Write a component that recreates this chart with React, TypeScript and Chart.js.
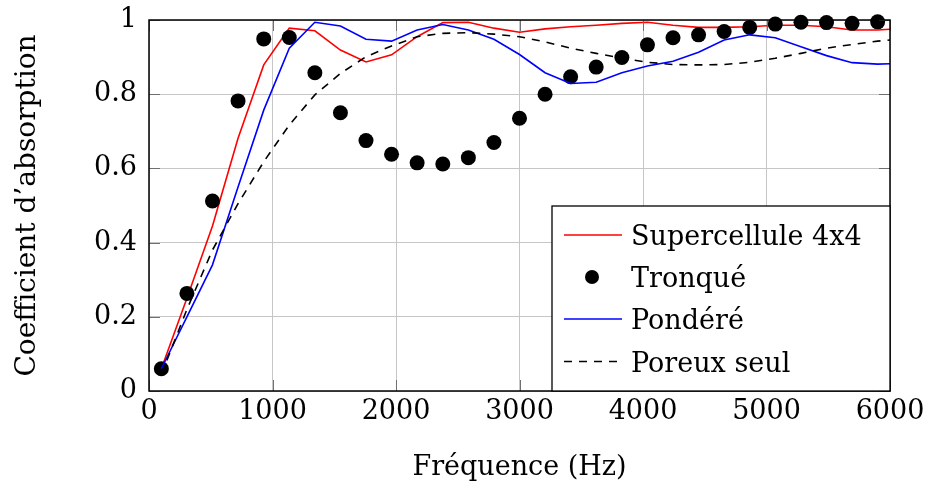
import React, { useEffect, useRef } from "react";
import { Chart, registerables } from "chart.js";

Chart.register(...registerables);

const FONT = "'DejaVu Serif', serif";
const FS = 27;

// Frequencies (Hz) of the computed points
const freqs = [100, 307, 514, 721, 929, 1136, 1343, 1550, 1757, 1964, 2171, 2379, 2586, 2793, 3000, 3207, 3414, 3621, 3829, 4036, 4243, 4450, 4657, 4864, 5071, 5279, 5486, 5693, 5900];
// Curves continue up to the right edge of the axis
const lineFreqs = [100, 307, 514, 721, 929, 1136, 1343, 1550, 1757, 1964, 2171, 2379, 2586, 2793, 3000, 3207, 3414, 3621, 3829, 4036, 4243, 4450, 4657, 4864, 5071, 5279, 5486, 5693, 5900, 6000];

const supercellule = [0.06, 0.25, 0.445, 0.681, 0.879, 0.978, 0.971, 0.919, 0.887, 0.906, 0.955, 0.993, 0.994, 0.978, 0.967, 0.976, 0.982, 0.986, 0.991, 0.994, 0.986, 0.98, 0.98, 0.982, 0.986, 0.986, 0.982, 0.973, 0.973, 0.975];
const tronque = [0.06, 0.263, 0.512, 0.782, 0.949, 0.953, 0.858, 0.75, 0.675, 0.638, 0.615, 0.612, 0.629, 0.67, 0.735, 0.8, 0.847, 0.873, 0.899, 0.933, 0.952, 0.96, 0.969, 0.98, 0.989, 0.994, 0.993, 0.991, 0.995];
const pondere = [0.06, 0.2, 0.34, 0.55, 0.757, 0.924, 0.994, 0.984, 0.948, 0.943, 0.973, 0.988, 0.973, 0.948, 0.907, 0.858, 0.829, 0.832, 0.858, 0.876, 0.889, 0.913, 0.946, 0.96, 0.952, 0.928, 0.904, 0.885, 0.881, 0.882];
const poreuxSeul = [0.045, 0.22, 0.38, 0.505, 0.618, 0.717, 0.798, 0.856, 0.901, 0.93, 0.955, 0.964, 0.966, 0.962, 0.955, 0.941, 0.924, 0.91, 0.897, 0.886, 0.88, 0.879, 0.88, 0.886, 0.897, 0.91, 0.924, 0.934, 0.943, 0.946];

const seriesLabels = ["Supercellule 4x4", "Tronqué", "Pondéré", "Poreux seul"];
const xTicks = [0, 1000, 2000, 3000, 4000, 5000, 6000];
const yTicks = [0, 0.2, 0.4, 0.6, 0.8, 1];
const xTitle = "Fréquence (Hz)";
const yTitle = "Coefficient d’absorption";

const toPoints = (xs: number[], ys: number[]) => ys.map((y, i) => ({ x: xs[i], y }));

const framePlugin = {
  id: "frameTicks",
  afterDatasetsDraw(chart: any) {
    const { ctx, chartArea } = chart;
    const { left, right, top, bottom } = chartArea;
    const xs = chart.scales.x;
    const ys = chart.scales.y;
    ctx.save();
    ctx.strokeStyle = "#707070";
    ctx.lineWidth = 1;
    const tl = 11;
    ctx.beginPath();
    xTicks.forEach((v) => {
      const px = Math.round(xs.getPixelForValue(v)) + 0.5;
      ctx.moveTo(px, bottom); ctx.lineTo(px, bottom - tl);
      ctx.moveTo(px, top); ctx.lineTo(px, top + tl);
    });
    yTicks.forEach((v) => {
      const py = Math.round(ys.getPixelForValue(v)) + 0.5;
      ctx.moveTo(left, py); ctx.lineTo(left + tl, py);
      ctx.moveTo(right, py); ctx.lineTo(right - tl, py);
    });
    ctx.stroke();
    ctx.strokeStyle = "#000";
    ctx.lineWidth = 1.5;
    ctx.strokeRect(left, top, right - left, bottom - top);
    ctx.restore();
  },
};

const legendPlugin = {
  id: "innerLegend",
  afterDraw(chart: any) {
    const { ctx, chartArea } = chart;
    const w = 338;
    const h = 185;
    const x0 = chartArea.right - w;
    const y0 = chartArea.bottom - h;
    ctx.save();
    ctx.fillStyle = "#fff";
    ctx.fillRect(x0, y0, w, h);
    ctx.strokeStyle = "#000";
    ctx.lineWidth = 1.3;
    ctx.strokeRect(x0, y0, w, h);
    const rowBase = [39, 81, 123, 165.5];
    ctx.font = `${FS}px ${FONT}`;
    ctx.textAlign = "left";
    ctx.textBaseline = "alphabetic";
    chart.data.datasets.forEach((ds: any, i: number) => {
      const base = y0 + rowBase[i];
      const my = base - 10;
      if (ds.showLine === false) {
        ctx.fillStyle = "#000";
        ctx.beginPath();
        ctx.arc(x0 + 40, my, 7, 0, Math.PI * 2);
        ctx.fill();
      } else {
        ctx.strokeStyle = ds.borderColor;
        ctx.lineWidth = ds.borderWidth;
        ctx.setLineDash(ds.borderDash || []);
        ctx.beginPath();
        ctx.moveTo(x0 + 12, my);
        ctx.lineTo(x0 + 70, my);
        ctx.stroke();
        ctx.setLineDash([]);
      }
      ctx.fillStyle = "#000";
      ctx.fillText(ds.label, x0 + 79, base);
    });
    ctx.restore();
  },
};

export default function App() {
  const ref = useRef<HTMLCanvasElement | null>(null);
  useEffect(() => {
    if (!ref.current) return;
    const font = { family: FONT, size: FS };
    const chart = new Chart(ref.current, {
      type: "line",
      data: {
        datasets: [
          { label: seriesLabels[0], data: toPoints(lineFreqs, supercellule), borderColor: "#ff0000", borderWidth: 1.6, pointRadius: 0, fill: false, order: 4 },
          { label: seriesLabels[1], data: toPoints(freqs, tronque), showLine: false, pointRadius: 7.5, pointBackgroundColor: "#000", pointBorderColor: "#000", pointBorderWidth: 0, borderColor: "#000", backgroundColor: "#000", clip: false, order: 3 },
          { label: seriesLabels[2], data: toPoints(lineFreqs, pondere), borderColor: "#0000ff", borderWidth: 1.6, pointRadius: 0, fill: false, order: 2 },
          { label: seriesLabels[3], data: toPoints(lineFreqs, poreuxSeul), borderColor: "#000", borderWidth: 1.6, borderDash: [8, 7], pointRadius: 0, fill: false, order: 1 },
        ],
      } as any,
      options: {
        animation: false,
        responsive: false,
        devicePixelRatio: 1,
        layout: { padding: { top: 20, right: 38, bottom: 0, left: 0 } },
        plugins: { legend: { display: false }, tooltip: { enabled: false } },
        elements: { line: { tension: 0 } },
        scales: {
          x: {
            type: "linear",
            min: 0,
            max: 6000,
            afterBuildTicks: (s: any) => { s.ticks = xTicks.map((v) => ({ value: v })); },
            afterFit: (s: any) => { s.height = 98; s.paddingLeft = 0; s.paddingRight = 0; },
            grid: { color: "#c6c6c6", lineWidth: 1, drawTicks: false },
            border: { display: false },
            ticks: { font, color: "#000", padding: 5, maxRotation: 0, autoSkip: false, callback: (v: any) => String(v) },
            title: { display: true, text: xTitle, font, color: "#000", padding: { top: 0, bottom: 5 } },
          },
          y: {
            type: "linear",
            min: 0,
            max: 1,
            afterBuildTicks: (s: any) => { s.ticks = yTicks.map((v) => ({ value: v })); },
            afterFit: (s: any) => { s.width = 149; s.paddingTop = 0; s.paddingBottom = 0; },
            grid: { color: "#c6c6c6", lineWidth: 1, drawTicks: false },
            border: { display: false },
            ticks: { font, color: "#000", padding: 12, autoSkip: false, callback: (v: any) => String(Number(Number(v).toFixed(1))) },
            title: { display: true, text: yTitle, font: { family: FONT, size: 28 }, color: "#000", padding: { top: 11, bottom: 0 } },
          },
        },
      } as any,
      plugins: [framePlugin, legendPlugin],
    });
    return () => chart.destroy();
  }, []);
  return (
    <div style={{ position: "absolute", left: 0, top: 0, width: 928, height: 489, background: "#fff" }}>
      <canvas ref={ref} width={928} height={489} style={{ display: "block", width: 928, height: 489 }} />
    </div>
  );
}
